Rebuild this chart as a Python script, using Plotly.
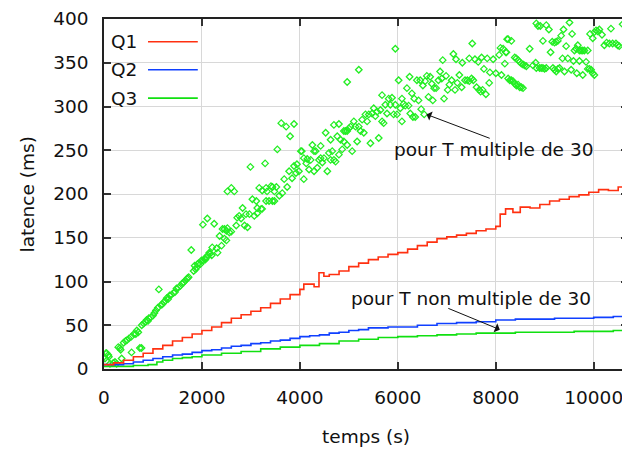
import plotly.graph_objects as go

# ---------------- data ----------------
q1_t = [0, 200, 400, 600, 800, 1000, 1200, 1400, 1600, 1800, 2000, 2200, 2400, 2600, 2800,
        3000, 3200, 3400, 3600, 3800, 4000, 4080, 4290, 4390, 4490, 4600, 4800, 5000, 5200,
        5400, 5600, 5800, 6000, 6200, 6400, 6600, 6800, 7000, 7200, 7400, 7600, 7800, 8000,
        8090, 8200, 8350, 8500, 8700, 8900, 9100, 9300, 9500, 9700, 9900, 10100, 10300,
        10500, 10700]
q1 = [5, 7, 10, 14, 18, 23, 27, 32, 36, 40, 44, 48, 53, 58, 62,
      66, 70, 75, 80, 85, 91, 97, 94, 110, 106, 108, 112, 117, 121,
      125, 128, 131, 133, 137, 141, 145, 149, 151, 153, 155, 158, 160, 163,
      177, 183, 179, 185, 184, 188, 192, 194, 197, 199, 202, 205, 204,
      208, 207]

q2_t = [0, 400, 600, 800, 1000, 1200, 1400, 1600, 1800, 2000, 2200, 2400, 2600, 2800, 3000,
        3200, 3400, 3600, 3800, 4000, 4200, 4400, 4600, 4800, 5000, 5200, 5400, 5600, 5800,
        6000, 6400, 6800, 7200, 7600, 8000, 8400, 8800, 9200, 9600, 10000, 10400, 10700]
q2 = [5, 6, 8, 10, 12, 14, 16, 17, 19, 21, 22, 24, 26, 27, 29,
      30, 32, 33, 35, 37, 38, 39, 41, 42, 44, 45, 47, 47, 48,
      48, 50, 52, 53, 54, 56, 57, 57, 58, 58, 59, 60, 61]

q3_t = [0, 300, 600, 900, 1080, 1200, 1400, 1600, 1800, 2000, 2400, 2800, 3200, 3600, 4000,
        4400, 4800, 5200, 5600, 6000, 6400, 6800, 7200, 7600, 8000, 8400, 8800, 9200, 9600,
        10000, 10400, 10700]
q3 = [3, 3, 4, 5, 8, 10, 12, 13, 14, 16, 18, 20, 23, 25, 27,
      29, 32, 34, 36, 37, 38, 39, 40, 41, 41, 42, 42, 42, 43,
      43, 44, 44]

# Q3 measurements for T multiple of 30 (scatter)
m30_t = [0, 20, 40, 54, 88, 100, 122, 189, 224, 258, 291, 325, 340, 360, 400, 440, 470, 510,
         560, 563, 610, 650, 670, 700, 732, 766, 770, 810, 850, 870, 900, 915, 955, 1000, 1030,
         1060, 1100, 1120, 1160, 1190, 1220, 1250, 1280, 1310, 1340, 1380, 1420, 1450, 1480,
         1520, 1560, 1600, 1630, 1660, 1690, 1710, 1730, 1782, 1830, 1850, 1870, 1890, 1910,
         1940, 1970, 1990, 2020, 2030, 2050, 2070, 2090, 2110, 2120, 2150, 2170, 2200, 2210,
         2250, 2300, 2320, 2360, 2400, 2420, 2460, 2460, 2500, 2500, 2520, 2520, 2560, 2600,
         2600, 2660, 2700, 2720, 2760, 2800, 2830, 2870, 2900, 2930, 2970, 2990, 3030, 3070,
         3110, 3130, 3130, 3170, 3210, 3230, 3230, 3290, 3310, 3310, 3330, 3370, 3410, 3440,
         3440, 3480, 3480, 3520, 3540, 3580, 3620, 3640, 3680, 3720, 3740, 3780, 3800, 3840,
         3880, 3880, 3920, 3940, 3980, 4020, 4040, 4080, 4080, 4130, 4150,
         4187, 4221, 4255, 4289, 4323, 4289, 4356, 4390, 4424, 4458, 4424, 4492, 4526, 4560,
         4593, 4627, 4627, 4661, 4695, 4695, 4729, 4763, 4797, 4797, 4831, 4864, 4898, 4932,
         4898, 4966, 5203, 4966, 4966, 5000, 5034, 5068, 5102, 5136, 5169, 5203, 5237, 5271,
         5305, 5339, 5373, 5407, 5441, 5474, 5508, 5542, 5576, 5610, 5644, 5678, 5711, 5745,
         5779, 5813, 5847, 5881, 5915, 5949, 5983, 5678, 6016, 5949, 6084, 6050, 6084,
         6118, 6152, 6186, 6220, 6240, 6254, 6288, 6308, 6335, 6355, 6389, 6423, 6457, 6477,
         6511, 6538, 6558, 6592, 6626, 6660, 6694, 6714, 6742, 6782, 6829, 6863, 6917, 6897,
         6944, 6985, 7019, 7053, 7100, 7134, 7168, 7188, 7215, 7256, 7303, 7317, 7372, 7419,
         7459, 7506, 7520, 7541, 7459, 7575, 7608, 7642, 7663, 7690, 7710, 7730, 7758, 7798,
         7825, 7880, 7866, 7947, 8001, 8069, 8096, 8150, 8205, 8116, 8232,
         8185, 8252, 8319, 8218, 8252, 8286, 8319, 8353, 8387, 8421, 8455, 8489, 8523, 8557,
         8387, 8421, 8455, 8489, 8523, 8557, 8590, 8624, 8692, 8760, 8814, 8828, 8895, 8929,
         8963, 8997, 9031, 8828, 8862, 8909, 9031, 9085, 8963, 9119, 9153, 9200, 9234, 9268,
         9167, 9200, 9234, 9268, 9302, 9336, 9383, 9437, 9505, 9559, 9363, 9403, 9471, 9539,
         9586, 9654, 9607, 9641, 9675, 9708, 9742, 9776, 9810, 9878, 9708, 9776, 9844, 9878,
         9912, 9946, 9980, 10013, 9925, 9980, 10013, 10047, 10081, 10115, 10169, 10217, 10264,
         10319, 10352, 10386, 10454, 10488, 10522, 10590, 10657]
m30 = [14, 12, 18, 18, 16, 14, 6, 7, 8, 6, 25, 24, 22, 12, 30, 32, 33, 35,
       37, 19, 40, 40, 44, 42, 24, 24, 50, 52, 54, 56, 55, 58, 59, 61, 64,
       67, 70, 91, 73, 74, 76, 78, 81, 80, 84, 85, 87, 88, 92,
       93, 95, 98, 99, 101, 103, 104, 105, 136, 112, 118, 114, 116, 120,
       121, 120, 124, 165, 124, 126, 125, 127, 172, 130, 133, 132, 130, 139,
       166, 138, 133, 152, 141, 160, 160, 149, 158, 147, 161, 203, 156, 157,
       207, 203, 164, 173, 175, 172, 184, 164, 177, 162, 177, 231, 194, 175,
       192, 184, 178, 207, 183, 183, 204, 235, 207, 192, 203, 192, 209, 208,
       192, 203, 192, 208, 251, 198, 281, 201, 217, 277, 208, 226, 266, 218,
       280, 232, 224, 234, 226, 249, 249, 241, 217, 235, 240,
       228, 239, 256, 249, 249, 226, 230, 239, 241, 236, 255, 241, 270, 226,
       247, 262, 239, 249, 239, 279, 237, 266, 280, 245, 262, 251, 272, 272,
       260, 328, 342, 272, 256, 275, 277, 249, 283, 277, 260, 277, 272, 285,
       270, 291, 283, 291, 258, 292, 298, 289, 294, 264, 296, 283, 281, 302,
       292, 309, 302, 310, 291, 302, 291, 313, 330, 366, 309, 298, 283,
       303, 301, 321, 301, 334, 292, 315, 288, 309, 288, 330, 307, 330, 297,
       324, 291, 329, 335, 311, 334, 326, 307, 321, 321, 330, 340, 353, 332,
       309, 335, 319, 325, 330, 360, 319, 354, 327, 336, 322, 350, 330, 330,
       329, 332, 372, 330, 355, 354, 322, 351, 319, 317, 356, 319, 343, 314,
       355, 339, 327, 354, 338, 359, 367, 366, 362, 336, 377,
       349, 377, 375, 362, 332, 330, 330, 329, 326, 324, 325, 322, 322, 321,
       356, 355, 353, 351, 349, 348, 347, 346, 366, 347, 350, 344, 344, 344,
       344, 343, 344, 395, 392, 392, 393, 388, 375, 362, 374, 373, 374, 375,
       344, 342, 340, 343, 344, 381, 388, 369, 396, 383, 355, 340, 355, 342,
       352, 338, 364, 366, 370, 364, 364, 364, 364, 364, 352, 336, 351, 343,
       343, 342, 338, 336, 383, 378, 385, 387, 386, 388, 382, 370, 373,
       372, 389, 372, 372, 370, 369, 394, 373]

x_ticks = [0, 2000, 4000, 6000, 8000, 10000]
y_ticks = [0, 50, 100, 150, 200, 250, 300, 350, 400]
series_names = ["Q1", "Q2", "Q3"]
series_colors = ["#ff3010", "#1040ff", "#10e010"]

FONT = "DejaVu Sans"
FS = 18.5

fig = go.Figure()

fig.add_trace(go.Scatter(x=m30_t, y=m30, mode="markers", showlegend=False,
                         marker=dict(symbol="diamond-open", size=5, color="#22ee22",
                                     line=dict(width=1.3, color="#22ee22"))))
for t, v, c in [(q3_t, q3, series_colors[2]), (q2_t, q2, series_colors[1]),
                (q1_t, q1, series_colors[0])]:
    fig.add_trace(go.Scatter(x=t, y=v, mode="lines", showlegend=False,
                             line=dict(color=c, width=1.6, shape="hv")))

axis_common = dict(showline=True, linecolor="#222", linewidth=1.5, mirror="ticks",
                   ticks="inside", ticklen=7, tickcolor="#333", tickwidth=1.5,
                   showgrid=True, gridcolor="#d8d8d8", gridwidth=1, zeroline=False,
                   ticklabeloverflow="allow",
                   tickfont=dict(family=FONT, size=FS, color="#111"))

fig.update_xaxes(range=[0, 10700], tickvals=x_ticks, ticktext=[str(v) for v in x_ticks],
                 ticklabelstandoff=11, **axis_common)
fig.update_yaxes(range=[0, 400], tickvals=y_ticks, ticktext=[str(v) for v in y_ticks],
                 ticklabelstandoff=10, **axis_common)

shapes = [dict(type="rect", xref="paper", yref="paper", x0=0.002, x1=0.2, y0=0.735, y1=0.995,
               fillcolor="white", line=dict(width=0), layer="between")]
annotations = []
legend_y = [0.935, 0.855, 0.774]
for name, col, ly in zip(series_names, series_colors, legend_y):
    shapes.append(dict(type="line", xref="paper", yref="paper", x0=0.084, x1=0.179,
                       y0=ly, y1=ly, line=dict(color=col, width=1.6)))
    annotations.append(dict(text=name, xref="paper", yref="paper", x=0.038, y=ly,
                            xanchor="center", yanchor="middle", showarrow=False,
                            font=dict(family=FONT, size=FS, color="#111")))

# axis titles
annotations.append(dict(text="temps (s)", xref="paper", yref="paper", x=0.5, y=-0.193,
                        xanchor="center", yanchor="middle", showarrow=False,
                        font=dict(family=FONT, size=FS, color="#111")))
annotations.append(dict(text="latence (ms)", xref="paper", yref="paper", x=-0.146, y=0.5,
                        xanchor="center", yanchor="middle", showarrow=False, textangle=-90,
                        font=dict(family=FONT, size=FS, color="#111")))

# labels with arrows
annotations.append(dict(text="pour T multiple de 30", x=7960, y=251, xref="x", yref="y",
                        showarrow=False, xanchor="center", yanchor="middle",
                        font=dict(family=FONT, size=FS, color="#111")))
annotations.append(dict(text="", x=6585, y=291, ax=7907, ay=263, xref="x", yref="y",
                        axref="x", ayref="y", showarrow=True, arrowhead=1, arrowsize=1.6,
                        arrowwidth=1, arrowcolor="#111", standoff=0, startstandoff=0))
annotations.append(dict(text="pour T non multiple de 30", x=7500, y=81, xref="x", yref="y",
                        showarrow=False, xanchor="center", yanchor="middle",
                        font=dict(family=FONT, size=FS, color="#111")))
annotations.append(dict(text="", x=8083, y=45, ax=7000, ay=70, xref="x", yref="y",
                        axref="x", ayref="y", showarrow=True, arrowhead=1, arrowsize=1.6,
                        arrowwidth=1, arrowcolor="#111", standoff=0, startstandoff=0))

# the page body keeps an 8 px margin, so the figure is sized to fit the 630x453 window
fig.update_layout(width=622, height=445, margin=dict(l=96, r=0, t=9, b=84),
                  paper_bgcolor="white", plot_bgcolor="white", showlegend=False,
                  shapes=shapes, annotations=annotations,
                  font=dict(family=FONT, size=FS, color="#111"))

fig.write_html("out.html")
